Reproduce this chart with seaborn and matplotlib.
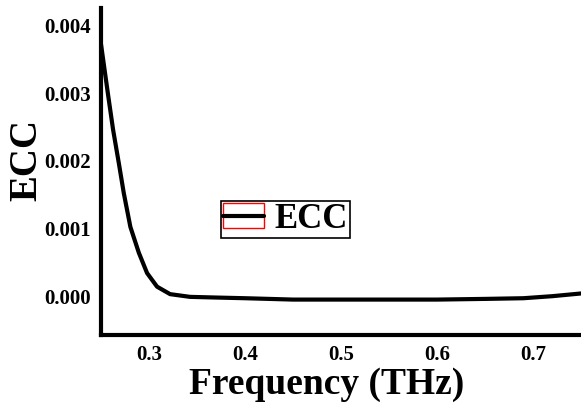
import matplotlib
matplotlib.use("Agg")
import matplotlib.pyplot as plt
import seaborn as sns
import pandas as pd
from matplotlib.lines import Line2D
from matplotlib.patches import Patch

freq = [0.2500, 0.2573, 0.2625, 0.2688, 0.2736, 0.2805, 0.2893, 0.2979, 0.3083, 0.3219,
        0.3427, 0.37, 0.40, 0.45, 0.50, 0.55, 0.60, 0.65, 0.69, 0.72, 0.75]
ecc = [0.00371, 0.00297, 0.00246, 0.00194, 0.00153, 0.00103, 0.00065, 0.00035, 0.00015, 0.00004,
       0.0, -0.00001, -0.00002, -0.00004, -0.00004, -0.00004, -0.00004, -0.00003, -0.00002, 0.00001, 0.00005]
xticks = [0.3, 0.4, 0.5, 0.6, 0.7]
yticks = [0.000, 0.001, 0.002, 0.003, 0.004]

df = pd.DataFrame({"Frequency": freq, "ECC": ecc})

sns.set_style("white")
plt.rcParams["font.family"] = ["Liberation Serif", "DejaVu Serif"]
plt.rcParams["font.weight"] = "bold"
plt.rcParams["text.color"] = "black"
plt.rcParams["xtick.color"] = "black"
plt.rcParams["ytick.color"] = "black"
plt.rcParams["axes.labelcolor"] = "black"

fig = plt.figure(figsize=(5.81, 4.04), dpi=100)
ax = fig.add_axes([0.174, 0.171, 0.826, 0.809])
sns.lineplot(data=df, x="Frequency", y="ECC", ax=ax, color="black", linewidth=3,
             legend=False)
for ln in ax.lines:
    ln.set_solid_joinstyle("round")
    ln.set_solid_capstyle("round")

ax.set_xlim(0.25, 0.75)
ax.set_ylim(-0.00056, 0.00425)
ax.set_xticks(xticks)
ax.set_xticklabels([f"{t:.1f}" for t in xticks], fontsize=15, fontweight="bold")
ax.set_yticks(yticks)
ax.set_yticklabels([f"{t:.3f}" for t in yticks], fontsize=15, fontweight="bold")
ax.tick_params(length=0, pad=7)
ax.set_xlabel("Frequency (THz)", fontsize=27, fontweight="bold")
ax.set_ylabel("ECC", fontsize=28, fontweight="bold")
ax.xaxis.set_label_coords(0.469, -0.097)
ax.yaxis.set_label_coords(-0.117, 0.535)

for s in ["top", "right"]:
    ax.spines[s].set_visible(False)
for s in ["left", "bottom"]:
    ax.spines[s].set_linewidth(3)
    ax.spines[s].set_color("black")

handle = (Patch(facecolor="none", edgecolor="red", linewidth=1),
          Line2D([], [], color="black", linewidth=3))
leg = ax.legend([handle], ["ECC"], loc="lower left", bbox_to_anchor=(0.25, 0.298),
                prop={"size": 25, "weight": "bold"}, fancybox=False, framealpha=1,
                edgecolor="black", borderpad=0.05, handlelength=1.2, handletextpad=0.3,
                borderaxespad=0)
leg.get_frame().set_linewidth(1.2)

fig.savefig("out.png", dpi=100)
